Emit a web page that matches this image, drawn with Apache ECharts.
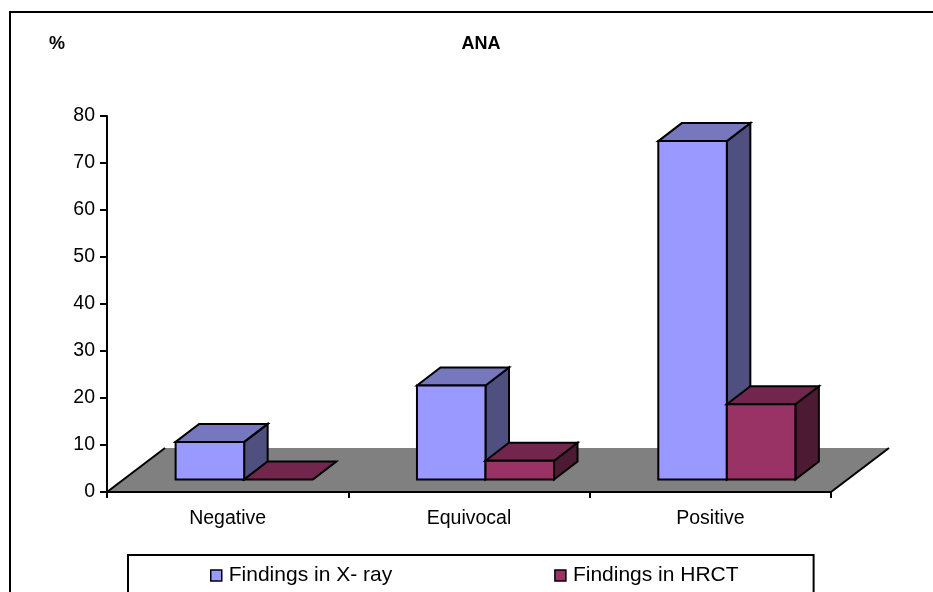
<!DOCTYPE html>
<html><head><meta charset="utf-8">
<style>html,body{margin:0;padding:0;background:#fff}#c{width:933px;height:592px}</style>
<script src="https://cdn.jsdelivr.net/npm/echarts@6/dist/echarts.min.js"></script>
</head><body><div id="c"></div>
<script>
const categories = ['Negative', 'Equivocal', 'Positive'];
const xrayValues = [8, 20, 72];
const hrctValues = [0, 4, 16];
const seriesNames = ['Findings in X- ray', 'Findings in HRCT'];

const FONT = '"Liberation Sans", Arial, sans-serif';
const LIFT = [16.5, -12.5], DEPTH = [23.5, -18], FLOOR = [58, -44], BAR_FRAC = 0.284;
const stroke = {stroke: '#000', lineWidth: 2, lineJoin: 'miter'};

function box(api, lane, cols) {
  const cat = api.value(0), val = api.value(1);
  const base = api.coord([cat, 0]), top = api.coord([cat, val]);
  const w = api.size([1, 0])[0] * BAR_FRAC;
  const x0 = base[0] + LIFT[0] + lane * w, x1 = x0 + w;
  const yb = base[1] + LIFT[1], yt = top[1] + LIFT[1];
  const dx = DEPTH[0], dy = DEPTH[1];
  const poly = (pts, fill) => ({type: 'polygon', shape: {points: pts}, style: Object.assign({fill}, stroke)});
  const children = [
    poly([[x1, yt], [x1 + dx, yt + dy], [x1 + dx, yb + dy], [x1, yb]], cols.side),
    poly([[x0, yt], [x0 + dx, yt + dy], [x1 + dx, yt + dy], [x1, yt]], cols.top)
  ];
  if (val > 0) children.push(poly([[x0, yt], [x1, yt], [x1, yb], [x0, yb]], cols.face));
  return {type: 'group', children};
}
function barSeries(name, values, lane, cols) {
  return {
    name, type: 'custom', z: 3, coordinateSystem: 'cartesian2d',
    itemStyle: {color: cols.face},
    encode: {x: 0, y: 1},
    data: values.map((v, i) => [i, v]),
    renderItem: (p, api) => box(api, lane, cols)
  };
}
const titleStyle = {fontFamily: FONT, fontSize: 18, fontWeight: 'bold', color: '#000'};
const chart = echarts.init(document.getElementById('c'), null, {renderer: 'canvas'});
chart.setOption({
  animation: false,
  backgroundColor: '#fff',
  textStyle: {fontFamily: FONT},
  graphic: [{
    type: 'polyline', z: 0, silent: true,
    shape: {points: [[10, 640], [10, 12], [960, 12]]},
    style: {stroke: '#000', lineWidth: 2, fill: null}
  }],
  title: [
    {text: 'ANA', left: 476, top: 30, textAlign: 'center', textStyle: titleStyle},
    {text: '%', left: 52, top: 30, textAlign: 'center', textStyle: titleStyle}
  ],
  grid: {left: 107, right: 102, top: 116, bottom: 100, containLabel: false},
  legend: {
    data: seriesNames, left: 128, top: 555, orient: 'horizontal', icon: 'rect',
    itemWidth: 11, itemHeight: 11, itemGap: 162,
    padding: [10, 75, 30, 82],
    borderColor: '#000', borderWidth: 2, backgroundColor: '#fff',
    itemStyle: {borderColor: '#000', borderWidth: 1.5},
    textStyle: {fontFamily: FONT, fontSize: 21, color: '#000', padding: [0, 0, 0, 2]}
  },
  xAxis: {
    type: 'category', data: categories, z: 5,
    axisLine: {show: true, lineStyle: {color: '#000', width: 2}},
    axisTick: {show: true, alignWithLabel: false, length: 6, lineStyle: {color: '#000', width: 2}},
    axisLabel: {color: '#000', fontFamily: FONT, fontSize: 19.5, margin: 17},
    splitLine: {show: false}
  },
  yAxis: {
    type: 'value', min: 0, max: 80, interval: 10, z: 5,
    axisLine: {show: true, lineStyle: {color: '#000', width: 2}},
    axisTick: {show: true, length: 7, lineStyle: {color: '#000', width: 2}},
    axisLabel: {color: '#000', fontFamily: FONT, fontSize: 19.5, margin: 12, padding: [3, 0, 0, 0]},
    splitLine: {show: false}
  },
  series: [
    {
      name: 'floor', type: 'custom', z: 1, silent: true, coordinateSystem: 'cartesian2d',
      encode: {x: 0, y: 1}, data: [[0, 0]],
      renderItem: (p, api) => {
        const c = p.coordSys, xL = c.x, xR = c.x + c.width, y = c.y + c.height;
        const fx = FLOOR[0], fy = FLOOR[1];
        return {type: 'group', children: [
          {type: 'polygon', shape: {points: [[xL, y], [xL + fx, y + fy], [xR + fx, y + fy], [xR, y]]}, style: {fill: '#808080', stroke: null}},
          {type: 'polyline', shape: {points: [[xL + fx, y + fy], [xL, y]]}, style: {stroke: '#000', lineWidth: 2, fill: null}},
          {type: 'polyline', shape: {points: [[xR + fx, y + fy], [xR, y]]}, style: {stroke: '#000', lineWidth: 2, fill: null}}
        ]};
      }
    },
    barSeries(seriesNames[0], xrayValues, -1, {face: '#9999FF', top: '#7777BD', side: '#4F4F80'}),
    barSeries(seriesNames[1], hrctValues, 0, {face: '#993366', top: '#73264D', side: '#4D1A33'})
  ]
});
</script></body></html>
